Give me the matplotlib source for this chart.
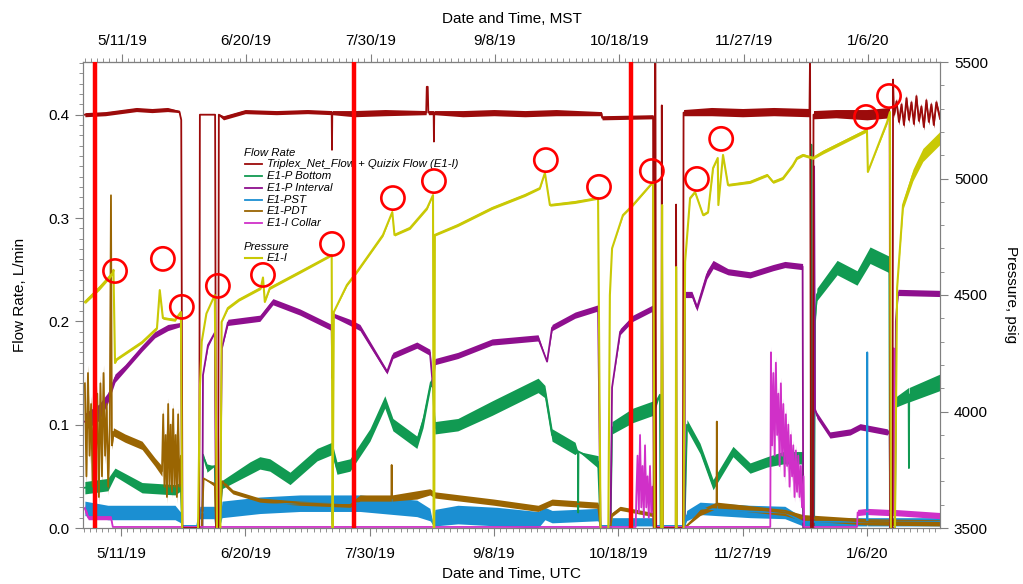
import datetime as dt
import numpy as np
import matplotlib.pyplot as plt
import matplotlib.dates as mdates
from matplotlib.ticker import FixedLocator, FuncFormatter, MultipleLocator

plt.rcParams['font.family'] = ['Liberation Sans', 'DejaVu Sans']

# time is given as days after 5/11/19 00:00 UTC
T0 = dt.datetime(2019, 5, 11)
x_range = (-12.2, 263.5)

# rows: (day, value, noise half-width), flow in L/min
triplex = [
    (-11.6, 0.400, 0.002), (-5.0, 0.401, 0.002), (0.0, 0.403, 0.002), (5.0, 0.405, 0.002),
    (10.0, 0.404, 0.002), (15.0, 0.405, 0.002), (18.8, 0.403, 0.001), (19.4, 0.395, 0),
    (19.8, 0.0, 0), (25.2, 0.0, 0), (25.4, 0.400, 0), (30.3, 0.400, 0), (30.6, 0.0, 0),
    (31.3, 0.0, 0), (31.5, 0.400, 0.001), (33.0, 0.397, 0.002), (40.0, 0.403, 0.002),
    (50.0, 0.402, 0.002), (60.0, 0.403, 0.002), (67.8, 0.402, 0.002), (67.9, 0.366, 0),
    (68.0, 0.402, 0.002), (75.0, 0.401, 0.003), (85.0, 0.402, 0.003), (98.2, 0.402, 0.002),
    (98.4, 0.427, 0), (98.7, 0.427, 0), (98.9, 0.402, 0.002), (100.6, 0.402, 0.002),
    (100.7, 0.374, 0), (100.8, 0.402, 0.002), (110.0, 0.401, 0.003), (120.0, 0.402, 0.003),
    (130.0, 0.401, 0.003), (140.0, 0.402, 0.003), (154.6, 0.401, 0.002), (154.8, 0.397, 0.002),
    (171.2, 0.398, 0.002), (171.4, 0.0, 0), (171.8, 0.0, 0), (171.9, 0.46, 0), (172.2, 0.0, 0),
    (173.9, 0.0, 0), (174.0, 0.409, 0), (174.3, 0.0, 0), (178.5, 0.0, 0), (178.6, 0.313, 0),
    (178.8, 0.0, 0), (180.8, 0.0, 0), (181.0, 0.402, 0.003), (190.0, 0.403, 0.004),
    (200.0, 0.402, 0.004), (210.0, 0.403, 0.004), (221.5, 0.402, 0.004), (221.7, 0.46, 0),
    (222.0, 0.0, 0), (222.6, 0.0, 0), (222.8, 0.400, 0.004), (230.0, 0.401, 0.004),
    (240.0, 0.400, 0.005), (247.3, 0.402, 0.005), (247.5, 0.0, 0), (248.2, 0.0, 0),
    (248.4, 0.434, 0), (248.7, 0.400, 0.003), (249.5, 0.413, 0.003), (250.3, 0.393, 0.003),
    (251.1, 0.410, 0.003), (251.9, 0.390, 0.003), (252.7, 0.416, 0.003), (253.5, 0.395, 0.003),
    (254.3, 0.412, 0.003), (255.1, 0.391, 0.003), (255.9, 0.418, 0.003), (256.7, 0.394, 0.003),
    (257.5, 0.408, 0.003), (258.3, 0.388, 0.003), (259.1, 0.414, 0.003), (259.9, 0.393, 0.003),
    (260.7, 0.410, 0.003), (261.5, 0.390, 0.003), (262.3, 0.412, 0.003), (263.5, 0.396, 0.003),
]

p_bottom = [
    (-11.6, 0.039, 0.006), (-4.2, 0.042, 0.006), (-1.9, 0.054, 0.004), (6.8, 0.039, 0.005),
    (17.4, 0.037, 0.005), (19.3, 0.040, 0.004), (19.7, 0.0, 0), (26.2, 0.0, 0), (26.4, 0.071, 0),
    (27.7, 0.058, 0.004), (30.2, 0.060, 0), (30.6, 0.0, 0), (31.8, 0.0, 0), (32.5, 0.042, 0.004),
    (41.5, 0.058, 0.006), (44.7, 0.063, 0.006), (47.9, 0.061, 0.006), (54.4, 0.048, 0.006),
    (63.1, 0.071, 0.006), (67.9, 0.077, 0.006), (69.5, 0.058, 0.006), (73.7, 0.061, 0.006),
    (80.1, 0.090, 0.006), (84.9, 0.122, 0.006), (87.5, 0.100, 0.006), (95.2, 0.083, 0.006),
    (97.2, 0.103, 0.006), (99.7, 0.141, 0.004), (100.4, 0.136, 0), (101.0, 0.097, 0.006),
    (108.4, 0.100, 0.006), (119.4, 0.116, 0.007), (134.2, 0.138, 0.007), (136.4, 0.132, 0.006),
    (138.7, 0.090, 0.006), (146.1, 0.077, 0.006), (147.0, 0.074, 0), (147.1, 0.015, 0),
    (147.2, 0.074, 0), (153.5, 0.064, 0.006), (154.3, 0.0, 0), (157.5, 0.0, 0),
    (158.0, 0.097, 0.006), (164.7, 0.109, 0.007), (171.2, 0.116, 0.007), (173.4, 0.129, 0),
    (173.6, 0.0, 0), (181.3, 0.0, 0), (182.1, 0.100, 0.005), (186.3, 0.077, 0.005),
    (190.5, 0.042, 0.005), (193.7, 0.058, 0.005), (196.9, 0.074, 0.005), (202.4, 0.058, 0.005),
    (207.9, 0.064, 0.005), (213.0, 0.068, 0.006), (219.4, 0.068, 0.006), (219.6, 0.0, 0),
    (221.9, 0.0, 0), (222.1, 0.371, 0), (222.4, 0.0, 0), (223.0, 0.0, 0), (223.3, 0.20, 0),
    (223.9, 0.226, 0.006), (230.4, 0.252, 0.007), (236.8, 0.242, 0.007), (241.0, 0.264, 0.008),
    (247.2, 0.255, 0.008), (247.4, 0.0, 0), (249.0, 0.0, 0), (249.3, 0.122, 0.005),
    (253.4, 0.129, 0.007), (253.5, 0.058, 0), (253.6, 0.129, 0.007), (263.5, 0.141, 0.008),
]

p_interval = [
    (-11.6, 0.103, 0.008), (-7.0, 0.112, 0.008), (-4.2, 0.126, 0.005), (-1.9, 0.145, 0.004),
    (1.3, 0.155, 0.003), (6.8, 0.174, 0.003), (10.9, 0.187, 0.003), (15.1, 0.194, 0.003),
    (19.3, 0.197, 0.002), (19.7, 0.0, 0), (26.2, 0.0, 0), (26.4, 0.148, 0), (28.0, 0.177, 0.002),
    (30.2, 0.189, 0), (30.6, 0.0, 0), (31.8, 0.0, 0), (32.5, 0.174, 0), (34.4, 0.199, 0.003),
    (44.7, 0.203, 0.003), (48.9, 0.219, 0.003), (57.6, 0.209, 0.003), (67.8, 0.194, 0.003),
    (68.0, 0.145, 0), (68.3, 0.206, 0.002), (73.7, 0.199, 0.003), (76.9, 0.194, 0.003),
    (85.6, 0.151, 0.002), (87.5, 0.167, 0.003), (95.2, 0.177, 0.003), (99.4, 0.170, 0.003),
    (100.4, 0.136, 0), (101.0, 0.161, 0.003), (108.4, 0.167, 0.003), (119.4, 0.180, 0.003),
    (134.2, 0.184, 0.003), (137.1, 0.161, 0), (138.7, 0.194, 0.003), (146.1, 0.206, 0.003),
    (153.5, 0.213, 0.003), (154.3, 0.0, 0), (157.5, 0.0, 0), (158.0, 0.136, 0),
    (160.6, 0.190, 0.003), (164.7, 0.203, 0.003), (171.2, 0.213, 0.003), (171.6, 0.0, 0),
    (173.9, 0.0, 0), (174.1, 0.203, 0), (174.3, 0.0, 0), (181.3, 0.0, 0), (181.5, 0.226, 0.003),
    (183.7, 0.226, 0.003), (185.3, 0.213, 0.003), (188.5, 0.245, 0.004), (190.5, 0.255, 0.004),
    (195.3, 0.248, 0.003), (202.4, 0.245, 0.003), (209.8, 0.252, 0.003), (213.6, 0.255, 0.003),
    (219.3, 0.253, 0.003), (219.5, 0.0, 0), (222.8, 0.0, 0), (223.0, 0.35, 0), (223.3, 0.115, 0),
    (223.9, 0.109, 0.003), (228.1, 0.090, 0.003), (234.6, 0.093, 0.003), (237.8, 0.098, 0.003),
    (246.5, 0.093, 0.003), (247.3, 0.093, 0), (247.5, 0.0, 0), (249.0, 0.0, 0), (249.3, 0.20, 0),
    (250.0, 0.228, 0.003), (263.5, 0.227, 0.003),
]

pst = [
    (-11.6, 0.019, 0.007), (-4.2, 0.015, 0.007), (17.4, 0.015, 0.007), (19.3, 0.010, 0.005),
    (19.7, 0.002, 0), (24.5, 0.002, 0), (25.4, 0.015, 0.006), (30.2, 0.015, 0.006),
    (30.6, 0.002, 0), (31.8, 0.002, 0), (32.5, 0.018, 0.008), (44.7, 0.022, 0.008),
    (57.6, 0.024, 0.008), (67.8, 0.024, 0.008), (68.0, 0.004, 0), (68.4, 0.024, 0.008),
    (76.9, 0.024, 0.008), (95.2, 0.019, 0.008), (99.4, 0.013, 0.006), (100.4, 0.004, 0),
    (101.0, 0.010, 0.008), (108.4, 0.013, 0.009), (121.0, 0.011, 0.009), (134.2, 0.008, 0.008),
    (136.4, 0.014, 0.006), (138.7, 0.011, 0.006), (153.5, 0.013, 0.006), (154.3, 0.002, 0),
    (157.5, 0.002, 0), (158.0, 0.006, 0.004), (171.2, 0.006, 0.004), (171.6, 0.002, 0),
    (181.3, 0.002, 0), (182.0, 0.012, 0.005), (186.3, 0.019, 0.006), (202.4, 0.016, 0.006),
    (213.6, 0.015, 0.006), (219.4, 0.006, 0.004), (240.0, 0.006, 0.004), (240.1, 0.170, 0),
    (240.2, 0.006, 0.004), (263.5, 0.006, 0.004),
]

pdt = [
    (-11.6, 0.140, 0.008), (-11.1, 0.050, 0.008), (-10.6, 0.150, 0.008), (-10.1, 0.070, 0.008),
    (-9.6, 0.120, 0.008), (-9.1, 0.040, 0.008), (-8.6, 0.150, 0.008), (-8.1, 0.060, 0.008),
    (-7.6, 0.130, 0.008), (-7.1, 0.030, 0.008), (-6.6, 0.140, 0.008), (-6.1, 0.050, 0.008),
    (-5.6, 0.150, 0.008), (-5.1, 0.070, 0.008), (-4.6, 0.120, 0.008), (-4.1, 0.040, 0.008),
    (-3.6, 0.100, 0.005), (-3.2, 0.322, 0), (-2.9, 0.080, 0.004),
    (-2.4, 0.093, 0.004), (1.3, 0.087, 0.004), (6.8, 0.080, 0.004), (10.9, 0.064, 0.004),
    (13.2, 0.055, 0.005), (13.6, 0.110, 0.006), (14.0, 0.040, 0.006), (14.4, 0.090, 0.006),
    (14.8, 0.030, 0.006), (15.2, 0.120, 0.006), (15.6, 0.040, 0.006), (16.0, 0.100, 0.006),
    (16.4, 0.035, 0.006), (16.8, 0.115, 0.006), (17.2, 0.040, 0.006), (17.6, 0.090, 0.006),
    (18.0, 0.030, 0.006), (18.4, 0.110, 0.006), (18.8, 0.040, 0.006), (19.3, 0.070, 0.004),
    (19.7, 0.0, 0), (26.0, 0.0, 0), (26.6, 0.048, 0), (30.2, 0.042, 0.002),
    (30.6, 0.0, 0), (31.8, 0.0, 0), (32.5, 0.045, 0.002), (36.0, 0.035, 0.002),
    (44.7, 0.027, 0.002), (57.6, 0.024, 0.002), (73.7, 0.022, 0.002), (76.9, 0.029, 0.003),
    (87.0, 0.029, 0.003), (87.1, 0.061, 0), (87.2, 0.029, 0.003), (95.2, 0.032, 0.004),
    (99.4, 0.035, 0.003), (101.0, 0.032, 0.003), (120.0, 0.025, 0.003), (134.2, 0.019, 0.003),
    (138.7, 0.025, 0.003), (153.5, 0.022, 0.003), (154.3, 0.0, 0), (157.5, 0.0, 0),
    (158.0, 0.013, 0.002), (160.6, 0.019, 0.002), (171.2, 0.013, 0.002), (171.6, 0.0, 0),
    (181.3, 0.0, 0), (186.3, 0.015, 0.003), (191.6, 0.022, 0.003), (191.7, 0.103, 0),
    (191.8, 0.022, 0.003), (213.6, 0.015, 0.003), (219.4, 0.010, 0.003), (240.0, 0.006, 0.003),
    (263.5, 0.005, 0.003),
]

collar = [
    (-11.6, 0.019, 0.004), (-10.5, 0.010, 0.002), (-3.2, 0.010, 0.002), (-2.6, 0.001, 0),
    (165.6, 0.001, 0), (165.8, 0.030, 0.004), (166.2, 0.070, 0.004), (166.6, 0.015, 0.004),
    (167.0, 0.090, 0.004), (167.4, 0.020, 0.004), (167.8, 0.060, 0.004), (168.2, 0.010, 0.004),
    (168.6, 0.080, 0.004), (169.0, 0.020, 0.004), (169.4, 0.050, 0.004), (169.8, 0.010, 0.004),
    (170.2, 0.060, 0.004), (170.6, 0.015, 0.004), (171.0, 0.040, 0.004),
    (171.4, 0.001, 0), (208.9, 0.001, 0), (209.1, 0.170, 0.006), (209.5, 0.080, 0.006),
    (209.9, 0.150, 0.006), (210.3, 0.070, 0.006), (210.7, 0.160, 0.006), (211.1, 0.090, 0.006),
    (211.5, 0.130, 0.006), (211.9, 0.060, 0.006), (212.3, 0.140, 0.006), (212.7, 0.070, 0.006),
    (213.1, 0.120, 0.006), (213.5, 0.050, 0.006), (213.9, 0.110, 0.006), (214.3, 0.060, 0.006),
    (214.7, 0.100, 0.006), (215.1, 0.040, 0.006), (215.5, 0.090, 0.006), (215.9, 0.050, 0.006),
    (216.3, 0.080, 0.005), (216.7, 0.030, 0.005), (217.1, 0.075, 0.005), (217.5, 0.035, 0.005),
    (217.9, 0.070, 0.005), (218.3, 0.030, 0.005), (218.7, 0.060, 0.005), (219.1, 0.020, 0.005),
    (219.6, 0.050, 0.004), (219.8, 0.001, 0),
    (236.8, 0.001, 0), (237.0, 0.015, 0.003), (240.0, 0.016, 0.003), (247.0, 0.015, 0.003),
    (248.5, 0.015, 0.003), (248.6, 0.174, 0), (248.8, 0.015, 0.003), (263.5, 0.012, 0.003),
]

# E1-I pressure, psig
e1i = [
    (-11.6, 4470, 8), (-7.0, 4530, 10), (-2.6, 4595, 8), (-2.4, 4608, 0), (-1.9, 4208, 0),
    (-1.3, 4225, 5), (6.8, 4298, 6), (11.6, 4358, 6), (12.5, 4521, 0), (13.5, 4401, 5),
    (17.4, 4393, 6), (19.3, 4427, 5), (19.7, 3490, 0), (24.8, 3490, 0), (25.4, 4100, 0),
    (26.0, 4300, 0), (27.5, 4420, 0), (30.2, 4500, 0), (30.9, 3490, 0), (32.0, 3490, 0),
    (32.4, 4384, 0), (34.4, 4444, 6), (38.0, 4480, 6), (41.5, 4505, 6), (45.0, 4530, 6),
    (45.7, 4575, 0), (46.3, 4470, 0), (47.9, 4530, 6), (57.6, 4599, 6), (67.8, 4672, 5),
    (68.1, 3490, 0), (68.5, 4427, 0), (72.7, 4543, 5), (75.9, 4599, 5), (84.3, 4758, 6),
    (87.3, 4856, 0), (88.0, 4758, 5), (93.0, 4788, 6), (98.5, 4873, 6), (100.4, 4929, 0),
    (100.6, 3490, 0), (100.8, 3490, 0), (101.0, 4758, 5), (108.4, 4800, 6), (119.4, 4873, 6),
    (130.0, 4929, 6), (134.8, 4959, 5), (136.4, 5024, 0), (138.0, 4886, 5), (146.1, 4899, 6),
    (153.5, 4916, 5), (154.3, 3490, 0), (156.8, 3490, 0), (157.3, 4500, 0), (158.0, 4700, 0),
    (161.5, 4843, 4), (164.7, 4886, 4), (171.2, 4985, 3), (171.7, 3490, 0), (173.8, 3490, 0),
    (174.1, 4886, 0), (174.3, 3490, 0), (178.5, 3490, 0), (178.6, 4620, 0), (178.8, 3490, 0),
    (181.0, 3490, 0), (181.5, 4642, 0), (183.1, 4916, 4), (184.7, 4942, 4), (187.3, 4843, 4),
    (188.9, 4856, 4), (190.5, 5045, 4), (192.0, 5088, 0), (192.2, 4886, 0), (193.7, 5101, 0),
    (195.3, 4972, 5), (202.4, 4985, 6), (207.9, 5015, 6), (209.8, 4985, 6), (213.0, 5002, 6),
    (216.2, 5058, 6), (217.5, 5088, 6), (219.4, 5101, 6), (222.6, 5088, 6), (225.9, 5114, 8),
    (230.4, 5144, 8), (240.0, 5208, 8), (240.3, 5028, 0), (246.5, 5243, 8), (247.4, 5285, 0),
    (247.7, 3490, 0), (249.0, 3490, 0), (249.7, 4530, 0), (251.6, 4886, 18), (254.8, 5015, 25),
    (258.0, 5101, 28), (263.5, 5174, 28),
]

event_days = [-8.4, 75.0, 164.1]
circle_days = [-1.9, 13.5, 19.6, 31.2, 45.7, 67.9, 87.5, 100.7, 136.7, 153.8, 170.8,
               185.3, 193.1, 239.7, 247.1]
circle_psig = [4603, 4655, 4449, 4539, 4586, 4719, 4916, 4989, 5079, 4964, 5032,
               4998, 5170, 5264, 5354]

label_days = [0, 40, 80, 120, 160, 200, 240]

flow_series = [
    ('E1-P Bottom', p_bottom, '#119a52'),
    ('E1-P Interval', p_interval, '#8e0f8e'),
    ('E1-PST', pst, '#1b8fd2'),
    ('E1-PDT', pdt, '#9a6502'),
    ('E1-I Collar', collar, '#d030c8'),
    ('Triplex_Net_Flow + Quizix Flow (E1-I)', triplex, '#9c0b0b'),
]
E1I_COLOR = '#c9c905'

t0 = mdates.date2num(T0)


def unpack(rows):
    a = np.array(rows, dtype=float)
    return t0 + a[:, 0], a[:, 1], a[:, 2]


fig = plt.figure(figsize=(10.23, 5.84), dpi=100)
ax = fig.add_axes([83 / 1023, 1 - 528 / 584, (940 - 83) / 1023, (528 - 62) / 584])
ax2 = ax.twinx()

for name, rows, color in flow_series:
    x, y, b = unpack(rows)
    ax.fill_between(x, y - b, y + b, color=color, lw=0)
    ax.plot(x, y, color=color, lw=1.3)

x, y, b = unpack(e1i)
ax2.fill_between(x, y - b, y + b, color=E1I_COLOR, lw=0)
ax2.plot(x, y, color=E1I_COLOR, lw=1.5)

for d in event_days:
    ax2.axvline(t0 + d, color='#ff0000', lw=3.2, zorder=6)
ax2.scatter(t0 + np.array(circle_days), circle_psig, s=280, facecolors='none',
            edgecolors='#ff0000', linewidths=1.9, zorder=7, clip_on=False)

ax.set_xlim(t0 + x_range[0], t0 + x_range[1])
ax.set_ylim(0, 0.451)
ax2.set_ylim(3500, 5500)


def date_label(v, pos):
    d = mdates.num2date(v)
    return f"{d.month}/{d.day}/{d:%y}"


minor_days = np.arange(-12, 264, 2)
ax.xaxis.set_major_locator(FixedLocator(t0 + np.array(label_days)))
ax.xaxis.set_minor_locator(FixedLocator(t0 + minor_days))
ax.xaxis.set_major_formatter(FuncFormatter(date_label))

sec = ax.secondary_xaxis('top', functions=(lambda v: v - 7 / 24, lambda v: v + 7 / 24))
sec.xaxis.set_major_locator(FixedLocator(t0 + np.array(label_days)))
sec.xaxis.set_minor_locator(FixedLocator(t0 + minor_days))
sec.xaxis.set_major_formatter(FuncFormatter(date_label))

ax.yaxis.set_major_locator(MultipleLocator(0.1))
ax.yaxis.set_minor_locator(MultipleLocator(0.01))
ax.yaxis.set_major_formatter(FuncFormatter(lambda v, p: f"{v:.1f}"))
ax2.yaxis.set_major_locator(MultipleLocator(500))
ax2.yaxis.set_minor_locator(MultipleLocator(100))

spine_c = '#808080'
for a in (ax, ax2, sec):
    a.tick_params(which='major', direction='out', length=6, width=0.8, color=spine_c,
                  labelsize=11, pad=4)
    a.tick_params(which='minor', direction='out', length=3, width=0.6, color=spine_c)
    for s in a.spines.values():
        s.set_color(spine_c)
        s.set_linewidth(0.8)
ax.tick_params(axis='x', which='major', pad=8)
sec.tick_params(axis='x', which='major', pad=4)

ax.set_ylabel('Flow Rate, L/min', fontsize=11, labelpad=15)
ax2.set_ylabel('Pressure, psig', fontsize=11, rotation=270, labelpad=22)
ax.set_xlabel('Date and Time, UTC', fontsize=11, labelpad=4)
sec.set_xlabel('Date and Time, MST', fontsize=11, labelpad=8)

# legend, drawn by hand in figure pixels
W, H = 1023, 584
def fx(px):
    return px / W
def fy(py):
    return 1 - py / H

leg_fs = 8.2
ax2.text(fx(244), fy(153), 'Flow Rate', transform=fig.transFigure, fontsize=leg_fs,
         style='italic', va='center', ha='left', zorder=2)
rows_y = [164, 176, 188, 200, 211, 223]
order = [5, 0, 1, 2, 3, 4]
for ry, idx in zip(rows_y, order):
    name, _, color = flow_series[idx]
    ax2.plot([fx(245), fx(262)], [fy(ry), fy(ry)], color=color, lw=1.3,
             transform=fig.transFigure, clip_on=False, zorder=2)
    ax2.text(fx(267), fy(ry), name, transform=fig.transFigure, fontsize=leg_fs,
             style='italic', va='center', ha='left', zorder=2)
ax2.text(fx(244), fy(247), 'Pressure', transform=fig.transFigure, fontsize=leg_fs,
         style='italic', va='center', ha='left', zorder=2)
ax2.plot([fx(245), fx(262)], [fy(258), fy(258)], color=E1I_COLOR, lw=1.5,
         transform=fig.transFigure, clip_on=False, zorder=2)
ax2.text(fx(267), fy(258), 'E1-I', transform=fig.transFigure, fontsize=leg_fs,
         style='italic', va='center', ha='left', zorder=2)

fig.savefig('out.png', dpi=100, facecolor='white')
